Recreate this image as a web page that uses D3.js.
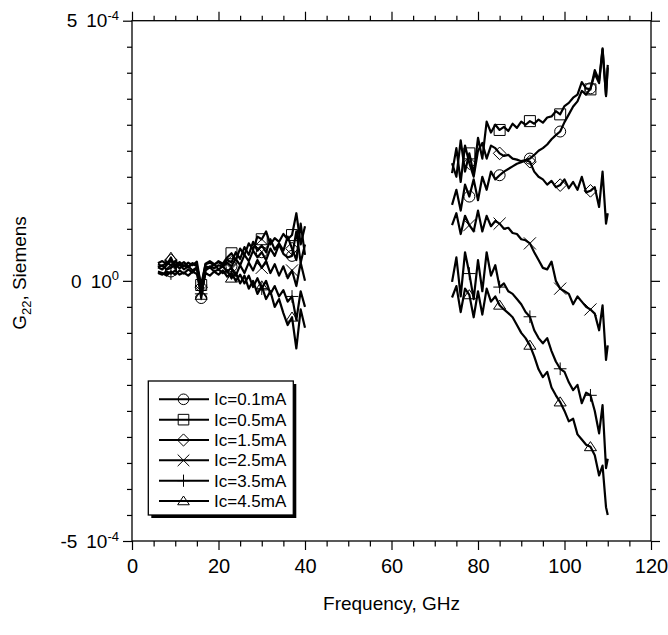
<!DOCTYPE html>
<html>
<head>
<meta charset="utf-8">
<script src="https://cdn.jsdelivr.net/npm/d3@7"></script>
<style>
body { margin: 0; background: #fff; }
svg { font-family: "Liberation Sans", Arial, sans-serif; }
</style>
</head>
<body>
<div id="chart"></div>
<script>
// G22 values are in units of 1e-4 Siemens
var freqLow = [6,7,8,9,10,11,12,13,14,15,16,17,18,19,20,21,22,23,24,25,26,27,28,29,30,31,32,33,34,35,36,37,38,39,40];
var freqHigh = [74,75,76,77,78,79,80,81,82,83,84,85,86,87,88,89,90,91,92,93,94,95,96,97,98,99,100,101,102,103,104,105,106,107,108,108.8,109.6,110];

var ic01Low = [0.18,0.15,0.10,0.18,0.12,0.20,0.14,0.22,0.16,0.25,-0.33,0.22,0.28,0.24,0.30,0.27,0.35,0.28,0.42,0.30,0.50,0.38,0.58,0.45,0.55,0.40,0.62,0.48,0.70,0.52,0.45,0.48,0.95,0.35,0.70];
var ic05Low = [0.26,0.30,0.22,0.25,0.32,0.24,0.30,0.26,0.33,0.28,-0.08,0.32,0.35,0.30,0.38,0.33,0.45,0.53,0.40,0.62,0.50,0.72,0.60,0.85,0.80,0.95,0.70,0.82,0.75,0.90,0.80,0.88,1.30,0.70,1.05];
var ic15Low = [0.34,0.38,0.32,0.40,0.30,0.36,0.28,0.35,0.30,0.37,-0.12,0.33,0.38,0.32,0.36,0.30,0.40,0.35,0.55,0.42,0.65,0.50,0.75,0.58,0.68,0.55,0.80,0.60,0.72,0.58,0.85,0.62,0.40,1.10,0.50];
var ic25Low = [0.32,0.28,0.35,0.30,0.38,0.30,0.36,0.28,0.34,0.30,-0.20,0.28,0.25,0.32,0.22,0.28,0.18,0.25,0.10,0.30,0.15,0.35,0.20,0.40,0.25,0.38,0.15,0.32,0.10,0.28,0.05,0.20,-0.10,0.35,0.00];
var ic35Low = [0.15,0.12,0.18,0.14,0.20,0.12,0.16,0.10,0.18,0.13,-0.25,0.15,0.10,0.18,0.12,0.20,0.08,0.15,0.00,0.12,-0.05,0.10,-0.12,0.05,-0.15,0.00,-0.25,-0.10,-0.30,-0.18,-0.40,-0.30,-0.75,-0.20,-0.50];
var ic45Low = [0.26,0.22,0.30,0.45,0.25,0.32,0.22,0.28,0.20,0.26,-0.28,0.20,0.26,0.18,0.22,0.15,0.20,0.05,0.15,-0.05,0.10,-0.15,0.00,-0.25,-0.10,-0.35,-0.20,-0.50,-0.35,-0.62,-0.85,-0.70,-1.30,-0.55,-0.90];

var ic01High = [1.46,1.75,1.35,1.85,1.62,1.95,1.55,2.00,1.75,2.10,1.95,2.03,2.10,2.15,2.20,2.25,2.28,2.32,2.35,2.42,2.50,2.55,2.62,2.72,2.80,2.87,3.05,3.20,3.35,3.45,3.65,3.58,3.70,3.98,3.80,4.45,3.55,4.10];
var ic05High = [2.26,2.00,2.70,2.10,2.45,2.05,2.75,2.35,3.06,2.85,3.00,2.90,2.96,2.88,3.02,2.94,3.06,3.00,3.07,3.02,3.10,3.04,3.14,3.16,3.26,3.20,3.36,3.42,3.52,3.58,3.82,3.70,3.68,4.05,3.85,4.47,3.57,4.15];
var ic15High = [2.07,2.55,1.90,2.60,2.26,2.00,2.50,2.65,2.35,2.60,2.55,2.45,2.40,2.42,2.35,2.33,2.30,2.32,2.29,2.10,2.00,1.95,1.85,1.92,1.80,1.84,1.95,1.78,1.90,1.75,2.00,1.70,1.73,1.80,1.42,2.10,1.10,1.30];
var ic25High = [1.07,1.30,0.90,1.25,1.07,0.95,1.35,0.95,1.25,1.05,1.15,1.10,1.00,1.02,0.92,0.90,0.80,0.78,0.72,0.55,0.40,0.25,0.22,0.37,0.00,-0.15,-0.20,-0.25,-0.45,-0.30,-0.40,-0.50,-0.55,-0.63,-0.95,-0.47,-1.52,-1.24];
var ic35High = [-0.02,0.45,-0.30,0.55,0.14,-0.35,0.40,-0.20,0.55,0.10,0.30,-0.12,-0.05,-0.20,-0.25,-0.35,-0.45,-0.60,-0.69,-0.95,-1.10,-1.20,-1.10,-1.35,-1.55,-1.69,-1.75,-1.95,-2.10,-2.00,-2.35,-2.15,-2.20,-2.50,-2.93,-2.39,-3.60,-3.42];
var ic45High = [-0.32,-0.10,-0.60,-0.15,-0.27,-0.70,-0.20,-0.65,-0.15,-0.40,-0.30,-0.47,-0.55,-0.62,-0.70,-0.85,-1.00,-1.10,-1.24,-1.45,-1.70,-1.85,-1.75,-2.05,-2.20,-2.33,-2.50,-2.70,-2.65,-2.95,-3.05,-3.15,-3.19,-3.35,-3.74,-3.55,-4.35,-4.50];

var seriesLabels = ["Ic=0.1mA","Ic=0.5mA","Ic=1.5mA","Ic=2.5mA","Ic=3.5mA","Ic=4.5mA"];
var seriesMarkers = ["circle","square","diamond","times","plus","triangle"];
var markerFreqs = [9,16,23,30,37,78,85,92,99,106];

var xMajorTicks = [0,20,40,60,80,100,120];
var xMinorTicks = [5,10,15,25,30,35,45,50,55,65,70,75,85,90,95,105,110,115];
var yMajorTicks = [-5,0,5];
var yMinorTicks = [-4.5,-4,-3.5,-3,-2.5,-2,-1.5,-1,-0.5,0.5,1,1.5,2,2.5,3,3.5,4,4.5];
var yTickMantissa = ["-5","0","5"];
var yTickExponent = ["-4","0","-4"];

var lowSets = [ic01Low, ic05Low, ic15Low, ic25Low, ic35Low, ic45Low];
var highSets = [ic01High, ic05High, ic15High, ic25High, ic35High, ic45High];

var width = 668, height = 635;
var plotLeft = 132, plotRight = 651, plotTop = 20.7, plotBottom = 541;

var svg = d3.select("#chart").append("svg")
    .attr("width", width)
    .attr("height", height);

var x = d3.scaleLinear().domain([0,120]).range([plotLeft,plotRight]);
var y = d3.scaleLinear().domain([-5,5]).range([plotBottom,plotTop]);

// marker shapes
function markerPath(type, r){
    var p = d3.path();
    if(type == "circle"){
        p.moveTo(r,0); p.arc(0,0,r,0,2*Math.PI);
    } else if(type == "square"){
        p.rect(-r,-r,2*r,2*r);
    } else if(type == "diamond"){
        var d = r*1.15;
        p.moveTo(0,-d); p.lineTo(d,0); p.lineTo(0,d); p.lineTo(-d,0); p.closePath();
    } else if(type == "times"){
        var t = r*1.1;
        p.moveTo(-t,-t); p.lineTo(t,t); p.moveTo(-t,t); p.lineTo(t,-t);
    } else if(type == "plus"){
        var q = r*1.15;
        p.moveTo(-q,0); p.lineTo(q,0); p.moveTo(0,-q); p.lineTo(0,q);
    } else if(type == "triangle"){
        var w = r*1.1;
        p.moveTo(0,-r*0.95); p.lineTo(w,r*0.7); p.lineTo(-w,r*0.7); p.closePath();
    }
    return p.toString();
}

var line = d3.line()
    .x(function(d){ return x(d.f); })
    .y(function(d){ return y(d.v); });

var plot = svg.append("g");

for(var s = 0; s < 6; s++){
    var bands = [
        freqLow.map(function(f,i){ return {f:f, v:lowSets[s][i]}; }),
        freqHigh.map(function(f,i){ return {f:f, v:highSets[s][i]}; })
    ];
    bands.forEach(function(pts){
        plot.append("path")
            .attr("d", line(pts))
            .attr("fill","none")
            .attr("stroke","#000")
            .attr("stroke-width",2.2)
            .attr("stroke-linejoin","round");
        var mk = pts.filter(function(d){ return markerFreqs.indexOf(d.f) >= 0; });
        plot.selectAll(null).data(mk).enter().append("path")
            .attr("transform", function(d){ return "translate(" + x(d.f) + "," + y(d.v) + ")"; })
            .attr("d", markerPath(seriesMarkers[s], 5.5))
            .attr("fill","none")
            .attr("stroke","#000")
            .attr("stroke-width",1);
    });
}

// axes (ticks pointing outward on all four sides)
function styleAxis(g){
    g.select(".domain").remove();
    g.selectAll(".tick line").attr("stroke","#000").attr("stroke-width",1.2);
}
svg.append("g").attr("transform","translate(0," + plotBottom + ")")
    .call(d3.axisBottom(x).tickValues(xMajorTicks).tickSize(9).tickPadding(9).tickFormat(d3.format("d")))
    .call(styleAxis)
    .selectAll("text").style("font-size","20px").style("font-family","Liberation Sans, Arial, sans-serif").attr("fill","#000");
svg.append("g").attr("transform","translate(0," + plotBottom + ")")
    .call(d3.axisBottom(x).tickValues(xMinorTicks).tickSize(5.5).tickFormat(""))
    .call(styleAxis);
svg.append("g").attr("transform","translate(0," + plotTop + ")")
    .call(d3.axisTop(x).tickValues(xMajorTicks).tickSize(9).tickFormat(""))
    .call(styleAxis);
svg.append("g").attr("transform","translate(0," + plotTop + ")")
    .call(d3.axisTop(x).tickValues(xMinorTicks).tickSize(5).tickFormat(""))
    .call(styleAxis);
svg.append("g").attr("transform","translate(" + plotLeft + ",0)")
    .call(d3.axisLeft(y).tickValues(yMajorTicks).tickSize(9).tickFormat(""))
    .call(styleAxis);
svg.append("g").attr("transform","translate(" + plotLeft + ",0)")
    .call(d3.axisLeft(y).tickValues(yMinorTicks).tickSize(5).tickFormat(""))
    .call(styleAxis);
svg.append("g").attr("transform","translate(" + plotRight + ",0)")
    .call(d3.axisRight(y).tickValues(yMajorTicks).tickSize(9).tickFormat(""))
    .call(styleAxis);
svg.append("g").attr("transform","translate(" + plotRight + ",0)")
    .call(d3.axisRight(y).tickValues(yMinorTicks).tickSize(5).tickFormat(""))
    .call(styleAxis);

svg.append("rect")
    .attr("x",plotLeft).attr("y",plotTop)
    .attr("width",plotRight-plotLeft).attr("height",plotBottom-plotTop)
    .attr("fill","none").attr("stroke","#000").attr("stroke-width",1.3);

// y tick labels like "5 10^-4"
yMajorTicks.forEach(function(v,i){
    var t = svg.append("text")
        .attr("x",119).attr("y",y(v)).attr("dy","0.35em")
        .attr("text-anchor","end")
        .style("font-size","19px");
    t.append("tspan").text(yTickMantissa[i]);
    t.append("tspan").attr("dx",9).text("10");
    t.append("tspan").attr("dy","-0.55em").style("font-size","13px").text(yTickExponent[i]);
});

// axis titles
svg.append("text")
    .attr("x",(plotLeft+plotRight)/2).attr("y",610)
    .attr("text-anchor","middle")
    .style("font-size","19px")
    .text("Frequency, GHz");

var yl = svg.append("text")
    .attr("transform","translate(26,273) rotate(-90)")
    .attr("text-anchor","middle")
    .style("font-size","19px");
yl.append("tspan").text("G");
yl.append("tspan").attr("dy",5).style("font-size","13px").text("22");
yl.append("tspan").attr("dy",-5).text(", Siemens");

// legend
var leg = svg.append("g");
var legShadow = leg.append("rect").attr("fill","#000");
var legBox = leg.append("rect").attr("fill","#fff").attr("stroke","#000").attr("stroke-width",1.3);
var maxEnd = 0;
seriesLabels.forEach(function(lbl,i){
    var yy = 399.3 + i*20.35;
    leg.append("line").attr("x1",159).attr("x2",209).attr("y1",yy).attr("y2",yy)
        .attr("stroke","#000").attr("stroke-width",2);
    leg.append("path").attr("transform","translate(183.5," + yy + ")")
        .attr("d", markerPath(seriesMarkers[i], 5.3))
        .attr("fill","none").attr("stroke","#000").attr("stroke-width",1);
    var tx = leg.append("text").attr("x",214).attr("y",yy).attr("dy","0.35em")
        .style("font-size","17px").text(lbl);
    maxEnd = Math.max(maxEnd, 214 + tx.node().getComputedTextLength());
});
var bx = 148.3, by = 381, bw = maxEnd + 7 - bx, bh = 134;
legShadow.attr("x",bx+3).attr("y",by+3).attr("width",bw).attr("height",bh);
legBox.attr("x",bx).attr("y",by).attr("width",bw).attr("height",bh);
</script>
</body>
</html>
